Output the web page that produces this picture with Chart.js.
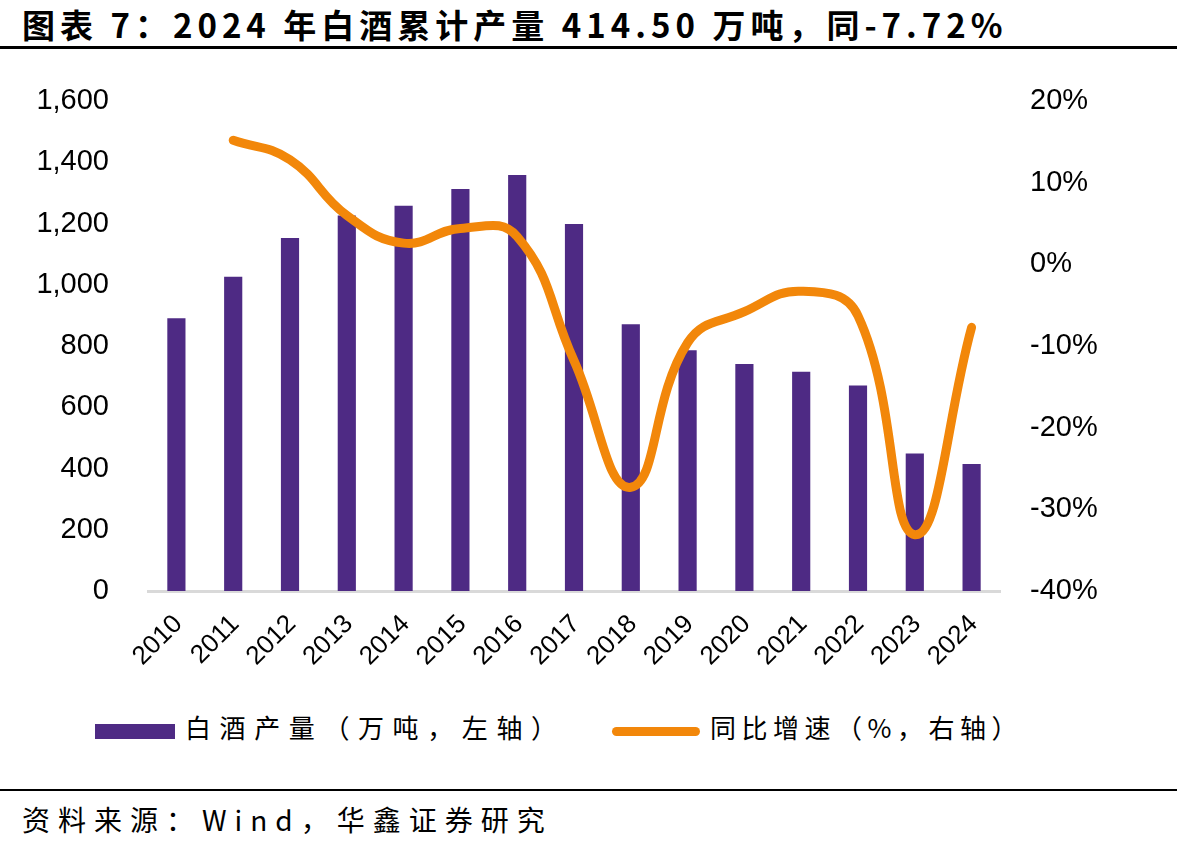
<!DOCTYPE html>
<html>
<head>
<meta charset="utf-8">
<script src="https://cdn.jsdelivr.net/npm/chart.js@4.4.1/dist/chart.umd.min.js"></script>
<style>
  body { margin: 0; background: #fff; width: 1177px; height: 850px; position: relative; overflow: hidden; }
  .title { position: absolute; left: 22px; top: 0px; font: bold 33px "Noto Sans CJK SC", sans-serif; color: #000; white-space: nowrap; letter-spacing: 5px; }
  .rule { position: absolute; left: 0; width: 1177px; height: 3px; background: #000; }
  #wrap { position: absolute; left: 0; top: 0; width: 1177px; height: 700px; }
  .legend { position: absolute; top: 708px; font: 26px "Noto Sans CJK SC", sans-serif; color: #000; white-space: nowrap; }
  .sw { position: absolute; }
  .source { position: absolute; left: 22px; top: 799px; font: 28px "Noto Sans CJK SC", sans-serif; color: #000; white-space: nowrap; letter-spacing: 8px; }
</style>
</head>
<body>
<div class="title">图表 7：2024 年白酒累计产量 414.50 万吨，同-7.72%</div>
<div class="rule" style="top:46px"></div>
<div id="wrap"><canvas id="chart"></canvas></div>
<div class="sw" style="left:95px;top:724px;width:80px;height:15px;background:#4E2A84"></div>
<div class="legend" style="left:185px;letter-spacing:8.6px">白酒产量（万吨，左轴）</div>
<div class="sw" style="left:612px;top:727px;width:88px;height:9px;border-radius:5px;background:#F2870A"></div>
<div class="legend" style="left:710px;letter-spacing:5.5px">同比增速（%，右轴）</div>
<div class="rule" style="top:789px;height:2px"></div>
<div class="source">资料来源：Wind，华鑫证券研究</div>
<script>
const years = ["2010", "2011", "2012", "2013", "2014", "2015", "2016", "2017",
  "2018", "2019", "2020", "2021", "2022", "2023", "2024"];
// 白酒产量（万吨）
const output = [891, 1026, 1153, 1226, 1258, 1313, 1358, 1198, 871, 786, 741, 716, 671, 449, 414.5];
// 同比增速（%）
const growth = [null, 15.2, 12.8, 6.0, 2.6, 4.4, 3.4, -11.8, -27.3, -9.6, -5.8, -3.3, -6.3, -33.1, -7.72];

const leftTicks = [0, 200, 400, 600, 800, 1000, 1200, 1400, 1600];
const rightTicks = [-40, -30, -20, -10, 0, 10, 20];

const tickFont = { family: "Liberation Sans, Arial, sans-serif", size: 29 };

const ctx = document.getElementById("chart").getContext("2d");
new Chart(ctx, {
  data: {
    labels: years,
    datasets: [
      {
        type: "line",
        label: "同比增速（%，右轴）",
        data: growth,
        yAxisID: "y1",
        borderColor: "#F2870A",
        borderWidth: 9,
        borderCapStyle: "round",
        borderJoinStyle: "round",
        tension: 0.45,
        pointRadius: 0,
        order: 0,
      },
      {
        type: "bar",
        label: "白酒产量（万吨，左轴）",
        data: output,
        yAxisID: "y",
        backgroundColor: "#4E2A84",
        barPercentage: 0.32,
        categoryPercentage: 1,
        order: 1,
      },
    ],
  },
  options: {
    responsive: true,
    maintainAspectRatio: false,
    animation: false,
    layout: { padding: { top: 101, left: 0, right: 0, bottom: 0 } },
    plugins: { legend: { display: false }, tooltip: { enabled: false } },
    scales: {
      x: {
        offset: true,
        grid: { display: false },
        border: { display: true, color: "#D9D9D9", width: 3 },
        ticks: {
          color: "#000",
          font: { family: "Liberation Sans, Arial, sans-serif", size: 26 },
          minRotation: 45,
          maxRotation: 45,
          padding: 10,
          labelOffset: 2,
        },
        afterFit: (s) => { s.height = 109; },
      },
      y: {
        position: "left",
        min: 0,
        max: 1600,
        grid: { display: false },
        border: { display: false },
        afterBuildTicks: (s) => { s.ticks = leftTicks.map((v) => ({ value: v })); },
        ticks: {
          color: "#000",
          font: tickFont,
          padding: 31,
          callback: (v) => v.toLocaleString("en-US"),
        },
        afterFit: (s) => { s.width = 148; },
      },
      y1: {
        position: "right",
        min: -40,
        max: 20,
        grid: { display: false },
        border: { display: false },
        afterBuildTicks: (s) => { s.ticks = rightTicks.map((v) => ({ value: v })); },
        ticks: {
          color: "#000",
          font: tickFont,
          padding: 22,
          callback: (v) => v + "%",
        },
        afterFit: (s) => { s.width = 177; },
      },
    },
  },
});
</script>
</body>
</html>
